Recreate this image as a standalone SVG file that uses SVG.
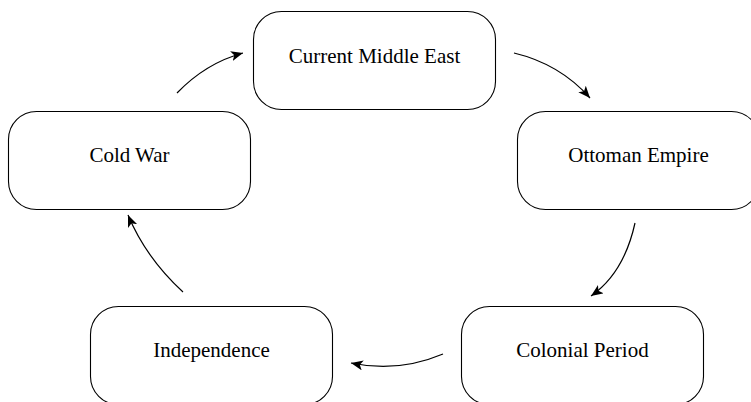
<svg xmlns="http://www.w3.org/2000/svg" width="751" height="402" viewBox="0 0 751 402">
<defs>
<marker id="arr" markerWidth="13" markerHeight="11" refX="12" refY="5" orient="auto" markerUnits="userSpaceOnUse">
<path d="M0,0 L12,5 L0,10 L3,5 z" fill="#000"/>
</marker>
</defs>
<style>
.box{fill:#fff;stroke:#000;stroke-width:1.1}
.lbl{font-size:21px;fill:#000;text-anchor:middle}
.edge{fill:none;stroke:#000;stroke-width:1.2;marker-end:url(#arr)}
</style>
<rect width="751" height="402" fill="#fff"/>
<g id="connectors">
<path class="edge" d="M177,93 Q206,63 243,53"/>
<path class="edge" d="M514,53 Q560,64 590,98"/>
<path class="edge" d="M635,223 Q624,273 591,296"/>
<path class="edge" d="M443,354 Q398,373 351,363"/>
<path class="edge" d="M183,292 Q146,258 128,215"/>
</g>
<g font-family="'Liberation Serif', 'Times New Roman', Times, serif">
<g id="node-current-middle-east">
<rect class="box" x="253.5" y="11.5" width="242" height="98" rx="28"/>
<text class="lbl" x="374.5" y="63">Current Middle East</text>
</g>
<g id="node-ottoman-empire">
<rect class="box" x="517.5" y="111.5" width="242" height="98" rx="28"/>
<text class="lbl" x="638.5" y="162">Ottoman Empire</text>
</g>
<g id="node-colonial-period">
<rect class="box" x="461.5" y="306.5" width="242" height="98" rx="28"/>
<text class="lbl" x="582.5" y="357">Colonial Period</text>
</g>
<g id="node-independence">
<rect class="box" x="90.5" y="306.5" width="242" height="98" rx="28"/>
<text class="lbl" x="211.5" y="357">Independence</text>
</g>
<g id="node-cold-war">
<rect class="box" x="8.5" y="111.5" width="242" height="98" rx="28"/>
<text class="lbl" x="129.5" y="162">Cold War</text>
</g>
</g>
</svg>
